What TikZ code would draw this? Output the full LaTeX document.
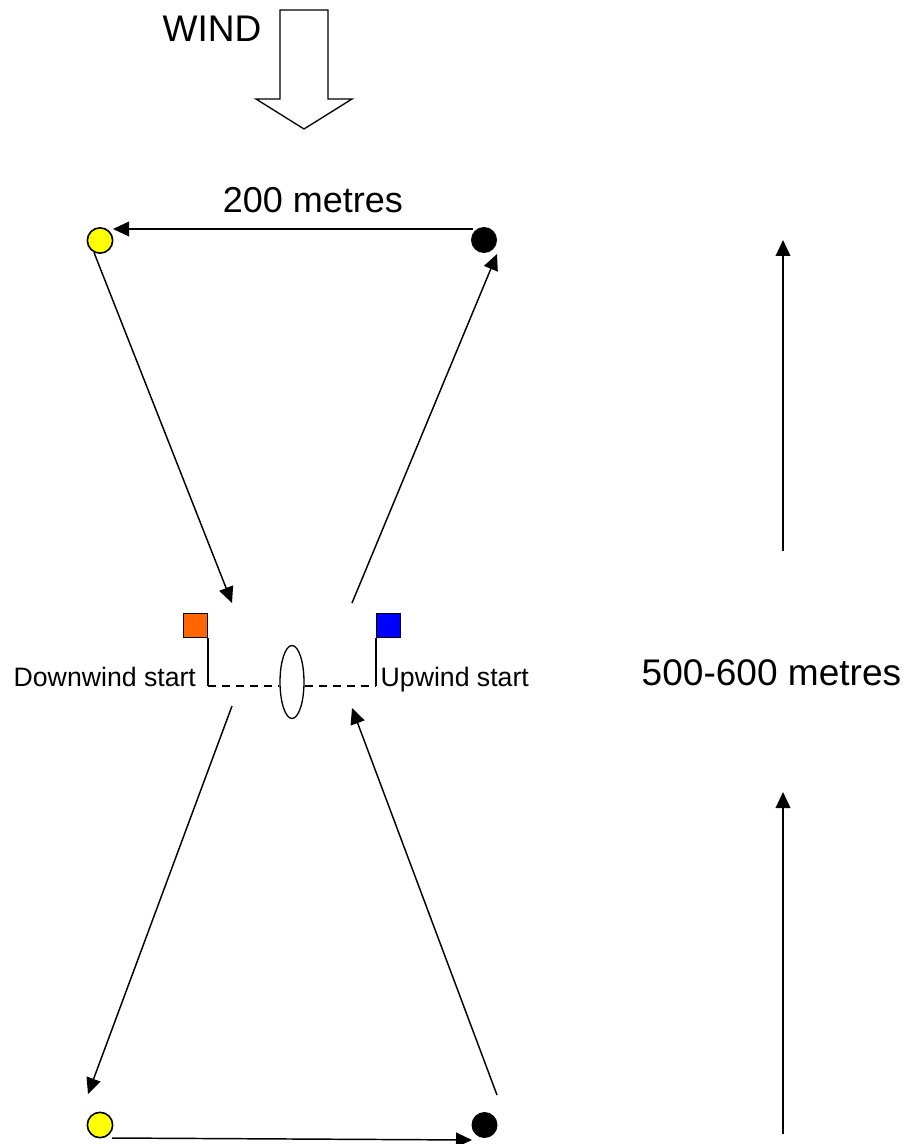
\documentclass[tikz,border=0pt]{standalone}
\usepackage{fontspec}
\setmainfont{Liberation Sans}
\usetikzlibrary{arrows.meta,calc,shapes.geometric}
\definecolor{flagorange}{HTML}{FF6600}
\definecolor{flagblue}{HTML}{0000FF}
\definecolor{buoyyellow}{HTML}{FFFF00}
\begin{document}
\begin{tikzpicture}[x=0.75pt,y=-0.75pt,
  line width=1pt,
  arr/.style={-{Triangle[length=12pt,width=11pt]}, line width=1.1pt},
  buoyY/.style={circle,draw,fill=buoyyellow,minimum size=19pt,inner sep=0pt,line width=1.2pt},
  buoyB/.style={circle,fill=black,minimum size=19.5pt,inner sep=0pt},
  flagbox/.style={draw,minimum size=18pt,inner sep=0pt,line width=1.1pt},
  lbl/.style={inner sep=0pt,anchor=base west},
  startline/.style={dash pattern=on 6pt off 4.5pt, line width=1pt}
]
\useasboundingbox (0,0) rectangle (908,1144);
% wind arrow
\draw[line width=1pt, line join=miter] (280,10) -- (328,10) -- (328,99) -- (352,99) -- (304,129) -- (256,99) -- (280,99) -- cycle;
\node[lbl, font=\fontsize{27.8}{30}\selectfont] (wind) at (162,42) {WIND};
% buoys
\node[buoyY] (ytop) at (100,240.5) {};
\node[buoyB] (btop) at (484,240) {};
\node[buoyY] (ybot) at (100,1125) {};
\node[buoyB] (bbot) at (484.5,1125) {};
\node[inner sep=0pt, anchor=base, font=\fontsize{27}{29}\selectfont] (dist) at (313,213) {200 metres};
% flags
\node[flagbox, fill=flagorange, anchor=north east] (fo) at (208,613) {};
\node[flagbox, fill=flagblue, anchor=north west] (fb) at (376,613) {};
\coordinate (po) at (208,686);
\coordinate (pb) at (376,686);
\draw (fo.south east) -- (po);
\draw (fb.south west) -- (pb);
\node[draw, ellipse, minimum width=18pt, minimum height=54.75pt, inner sep=0pt, line width=1pt] (gate) at (292,682) {};
\draw[startline] (po) -- (gate.west |- po);
\draw[startline] (gate.east |- pb) -- (pb);
\node[lbl, font=\fontsize{20}{22}\selectfont] (dws) at (13,686) {Downwind start};
\node[lbl, font=\fontsize{20}{22}\selectfont] (uws) at (380,686) {Upwind start};
\node[lbl, font=\fontsize{27.8}{30}\selectfont] (len) at (641,685) {500-600 metres};
% course connectors
\coordinate (dl) at (232,603);
\coordinate (ul) at (352,603);
\coordinate (dl2) at (232,706);
\coordinate (ur2) at (352,708);
\draw[arr] ($(btop)+(-11,-11)$) -- ($(ytop)+(13,-11.5)$);
\draw[arr] ($(ytop)+(-6,12)$) -- (dl);
\draw[arr] (ul) -- ($(btop)+(13,14)$);
\draw[arr] (dl2) -- ($(ybot)+(-12,-31)$);
\draw[arr] ($(bbot)+(12.5,-30)$) -- (ur2);
\draw[arr] ($(ybot)+(12,13)$) -- ($(bbot)+(-12.5,15)$);
% length arrows
\coordinate (r1s) at (783,551);
\coordinate (r1e) at (783,240);
\coordinate (r2s) at (783,1134);
\coordinate (r2e) at (783,792);
\draw[arr] (r1s) -- (r1e);
\draw[arr] (r2s) -- (r2e);
\end{tikzpicture}
\end{document}
